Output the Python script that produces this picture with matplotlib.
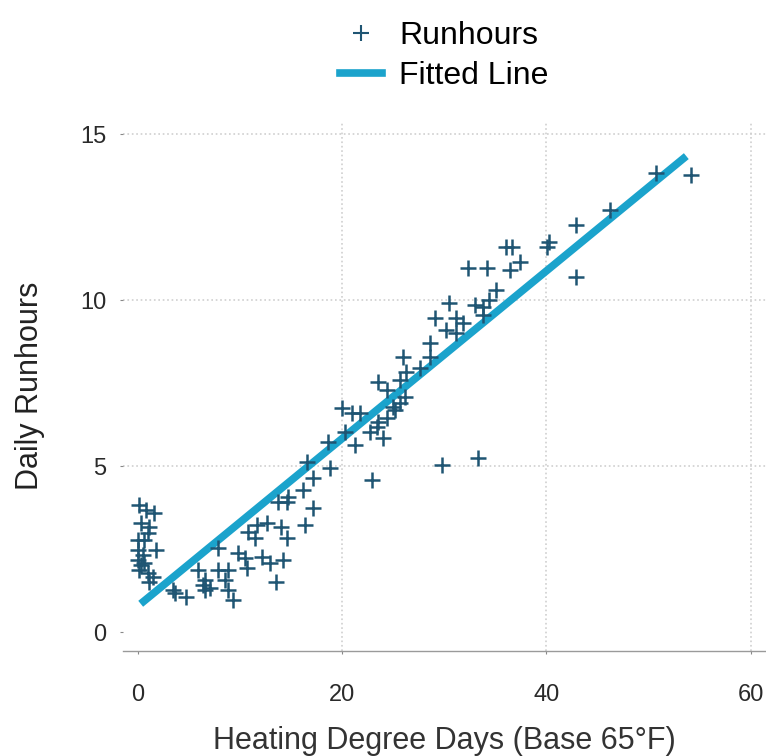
import matplotlib.pyplot as plt
from matplotlib.lines import Line2D

plt.rcParams['font.family'] = ['Liberation Sans', 'DejaVu Sans']

# heating degree days vs daily runhours
hdd = [
    0.1, 0.8, 1.6, 0.3, 1.1, 1.0, 0.6, 0.0, 1.8, 0.5, 0.0, 0.3, 0.1, 1.0, 1.5, 1.1, 0.0, 0.6,
    3.5, 3.7, 4.7, 6.4, 6.6, 7.1, 8.6, 8.8, 9.3, 5.9, 6.6, 7.9, 8.8, 7.9, 9.8, 10.5, 10.7,
    12.2, 13.0, 14.2, 13.5, 10.8, 11.5, 11.7, 12.7, 14.0, 14.6, 16.4, 17.2, 13.7, 14.6,
    16.2, 14.7, 17.2, 18.8, 16.6, 22.9, 18.6, 21.3, 20.3, 20.0, 21.0, 21.8, 22.7, 23.4,
    24.0, 23.5, 24.4, 25.2, 25.7, 26.2, 24.4, 25.0, 23.5, 25.7, 26.3, 27.6, 26.0, 28.6,
    28.6, 30.2, 31.2, 31.8, 29.1, 31.2, 30.5, 33.0, 33.8, 33.8, 34.4, 35.1, 32.3, 34.2,
    36.4, 37.4, 36.1, 36.6, 40.3, 40.1, 42.9, 42.9, 46.2, 50.7, 54.2, 29.8, 33.3,
]
runhours = [
    3.83, 3.67, 3.58, 3.28, 3.16, 2.98, 2.77, 2.47, 2.47, 2.32, 2.17, 2.02, 1.87, 1.78, 1.66, 1.51, 2.77, 2.08,
    1.27, 1.17, 1.05, 1.42, 1.27, 1.33, 1.57, 1.27, 0.96, 1.87, 1.57, 1.87, 1.87, 2.53, 2.38, 2.23, 1.93,
    2.26, 2.08, 2.17, 1.51, 3.01, 2.83, 3.22, 3.28, 3.16, 2.83, 3.22, 3.73, 3.92, 3.92,
    4.28, 4.07, 4.64, 4.94, 5.12, 4.58, 5.72, 5.63, 6.02, 6.75, 6.60, 6.60, 6.02, 6.17,
    5.84, 6.33, 6.45, 6.69, 6.90, 7.08, 7.29, 6.78, 7.53, 7.59, 7.83, 7.95, 8.28, 8.28,
    8.70, 9.10, 9.00, 9.31, 9.46, 9.46, 9.91, 9.85, 9.79, 9.55, 10.00, 10.30, 10.96, 10.96,
    10.90, 11.14, 11.60, 11.60, 11.75, 11.60, 12.26, 10.69, 12.71, 13.83, 13.77, 5.03, 5.24,
]

# fitted line end points
fit_x = [0.3, 53.7]
fit_y = [0.85, 14.34]

x_ticks = [0, 20, 40, 60]
y_ticks = [0, 5, 10, 15]

point_color = "#1f5573"
line_color = "#1ba3cc"

fig = plt.figure(figsize=(7.66, 7.56), dpi=100)
ax = fig.add_axes([0.161, 0.139, 0.839, 0.701])

ax.plot(fit_x, fit_y, color=line_color, linewidth=5.5, solid_capstyle='butt', zorder=3)
ax.plot(hdd, runhours, linestyle='none', marker='+', markersize=11, markeredgewidth=1.8,
        color=point_color, zorder=4)

ax.set_xlim(-1.4, 61.5)
ax.set_ylim(-0.57, 15.4)
ax.set_xticks(x_ticks)
ax.set_yticks(y_ticks)

for side in ['top', 'right', 'left']:
    ax.spines[side].set_visible(False)
ax.spines['bottom'].set_color('#9a9a9a')
ax.spines['bottom'].set_linewidth(1.0)

ax.tick_params(axis='both', length=2, color='#888888', labelsize=17, labelcolor='#2a2a2a')
ax.tick_params(axis='x', pad=22)
ax.tick_params(axis='y', pad=10)

ax.grid(True, linestyle=':', color='#cfcfcf', linewidth=1.2)
ax.get_xgridlines()[0].set_visible(False)
ax.get_ygridlines()[0].set_visible(False)
ax.set_axisbelow(True)

ax.set_xlabel("Heating Degree Days (Base 65°F)", fontsize=22, color='#333333', labelpad=14)
ax.set_ylabel("Daily Runhours", fontsize=22, color='#222222')
ax.yaxis.set_label_coords(-0.122, 0.5)

handles = [
    Line2D([], [], linestyle='none', marker='+', markersize=11, markeredgewidth=1.5, color=point_color),
    Line2D([], [], color=line_color, linewidth=5.5),
]
fig.legend(handles, ["Runhours", "Fitted Line"], loc='upper center', bbox_to_anchor=(0.58, 1.01),
           frameon=False, fontsize=23, handlelength=1.3, handletextpad=0.55, labelspacing=0.3)

fig.savefig("out.png", dpi=100)
